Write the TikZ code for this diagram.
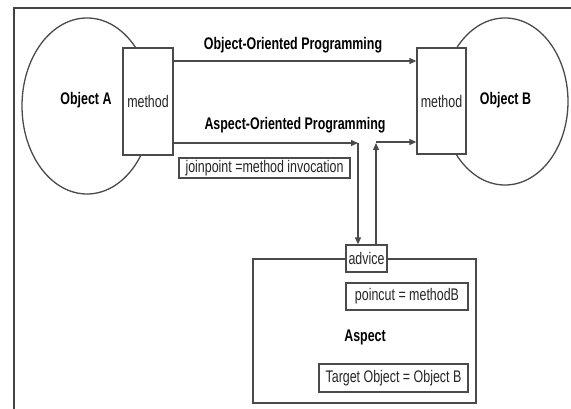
\documentclass[tikz,border=0pt]{standalone}
\usepackage{fontspec}
\setmainfont{Liberation Sans}[FakeStretch=0.74]
\usetikzlibrary{arrows.meta,shapes.geometric,calc}
\definecolor{ink}{HTML}{4A4A4A}
\definecolor{txt}{HTML}{262626}
\begin{document}
\begin{tikzpicture}[x=1pt,y=-1pt,
  every node/.style={font=\fontsize{16.8}{19}\selectfont, text=txt, inner sep=0pt},
  line/.style={draw=ink, line width=1.3pt},
  arr/.style={line, -{Triangle[length=7pt,width=6pt]}},
  box/.style={line, fill=white, rectangle, anchor=center},
  blob/.style={line, ellipse, inner sep=0pt},
  title/.style={font=\fontsize{16.8}{19}\selectfont\bfseries, text=black}]
\useasboundingbox (0,0) rectangle (571,409);

% frame edges
\draw[draw=ink!90!black, line width=1.8pt] (571,8) -- (14,8) -- (14,409);

% the two objects
\node[blob, minimum width=130pt, minimum height=176pt] (objA) at (87,106) {};
\node[blob, minimum width=126pt, minimum height=167pt] (objB) at (505,101.5) {};
\node[title] (labA) at (86,100) {Object A};
\node[title] (labB) at (505.5,100) {Object B};

% method boxes
\node[box, minimum width=50pt, minimum height=107pt] (mA) at (148,101.5) {method};
\node[box, minimum width=49pt, minimum height=106pt] (mB) at (441.5,101) {method};

% helper coordinates for the connector levels
\coordinate (oop) at (0,61);
\coordinate (aop) at (0,143);
\coordinate (down) at (358,0);
\coordinate (up) at (376,0);

% aspect container and its parts
\node[line, rectangle, minimum width=223pt, minimum height=144pt] (aspect) at (364.5,331) {};
\node[box, minimum width=41pt, minimum height=27pt] (advice) at (366.5,258.5) {advice};
\node[box, minimum width=122pt, minimum height=27pt] (pcut) at (407,296.5) {poincut = methodB};
\node[title] (aspectlab) at (365,337) {Aspect};
\node[box, minimum width=149pt, minimum height=28pt] (target) at (393.5,378) {Target Object = Object B};

% join point
\node[box, minimum width=171pt, minimum height=20pt] (jp) at (264.5,168) {joinpoint =method invocation};

% object-oriented call
\draw[arr] (mA.east |- oop) -- (mB.west |- oop);
\node[title] (ooplab) at (293,45) {Object-Oriented Programming};

% aspect-oriented call through the advice
\draw[arr] (mA.east |- aop) -- (down |- aop);
\draw[arr] (down |- aop) -- (down |- advice.north);
\draw[arr] (up |- advice.north) -- (up |- aop);
\draw[arr] ($(up |- aop)+(0,-1)$) -- ($(mB.west |- aop)+(0,-1)$);
\node[title] (aoplab) at (295,125) {Aspect-Oriented Programming};
\end{tikzpicture}
\end{document}
